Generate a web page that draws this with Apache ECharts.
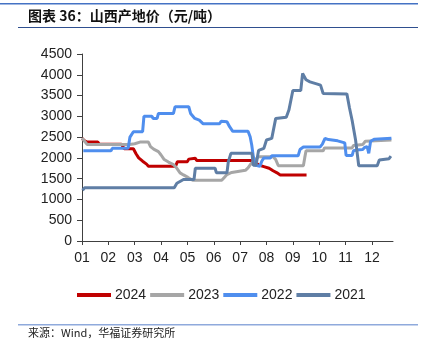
<!DOCTYPE html>
<html>
<head>
<meta charset="utf-8">
<script src="https://cdn.jsdelivr.net/npm/echarts@6/dist/echarts.min.js"></script>
<style>
  html, body { margin: 0; padding: 0; background: #fff; }
  #chart { width: 421px; height: 354px; }
</style>
</head>
<body>
<div id="chart"></div>
<script>
// month labels for the x axis (0 = start of Jan)
var monthLabels = ['01', '02', '03', '04', '05', '06', '07', '08', '09', '10', '11', '12'];
var seriesNames = ['2024', '2023', '2022', '2021'];

// [month position, price]
var price2024 = [[0.0,2470],[0.1,2410],[0.2,2380],[0.6,2380],[0.65,2330],[1.5,2330],[1.6,2220],[1.95,2220],
  [2.05,2100],[2.15,2000],[2.3,1920],[2.45,1850],[2.52,1800],[3.55,1800],[3.62,1910],[4.0,1910],[4.05,1970],
  [4.1,1990],[4.3,1990],[4.35,1940],[6.45,1940],[6.55,1910],[6.7,1830],[6.9,1790],[7.1,1750],[7.25,1690],
  [7.4,1640],[7.52,1590],[8.52,1590]];
var price2023 = [[0.0,2470],[0.1,2400],[0.2,2320],[1.8,2320],[2.0,2340],[2.2,2380],[2.52,2380],[2.6,2270],
  [2.72,2210],[2.9,2150],[3.0,2070],[3.12,1960],[3.28,1900],[3.47,1840],[3.6,1750],[3.72,1640],[3.85,1590],
  [4.02,1530],[4.2,1460],[5.3,1460],[5.4,1530],[5.5,1600],[5.68,1650],[5.75,1690],[6.2,1700],[6.3,1760],
  [6.4,1850],[6.55,1940],[6.7,2030],[7.25,2030],[7.35,1960],[7.45,1810],[8.4,1810],[8.45,2000],[8.5,2170],
  [9.15,2170],[9.2,2240],[10.25,2240],[10.3,2300],[10.65,2320],[10.75,2400],[10.82,2430],[11.74,2430]];
var price2022 = [[0.05,2170],[1.1,2170],[1.15,2230],[1.75,2230],[1.82,2500],[1.95,2630],[2.3,2630],[2.35,3000],
  [2.65,3000],[2.7,2950],[2.85,2950],[2.9,3070],[3.47,3070],[3.53,3230],[4.05,3230],[4.12,3070],[4.28,2950],
  [4.45,2910],[4.6,2820],[5.22,2820],[5.28,2880],[5.5,2870],[5.6,2750],[5.72,2640],[6.3,2640],[6.38,2510],
  [6.44,2310],[6.5,2030],[6.56,1830],[6.75,1800],[6.82,1920],[6.9,2000],[7.15,2000],[7.2,2050],[8.2,2050],
  [8.27,2200],[8.4,2260],[9.03,2260],[9.12,2330],[9.22,2470],[9.35,2440],[9.7,2410],[9.75,2370],[9.97,2360],
  [10.02,2060],[10.25,2060],[10.3,2170],[10.42,2190],[10.65,2200],[10.72,2250],[10.82,2270],[10.88,2110],
  [10.95,2400],[11.1,2450],[11.17,2470],[11.74,2470]];
var price2021 = [[0.02,1220],[0.1,1280],[3.5,1280],[3.6,1390],[3.85,1480],[4.25,1480],[4.3,1750],[5.05,1750],
  [5.1,1640],[5.5,1640],[5.55,1900],[5.65,2110],[6.45,2110],[6.5,1820],[6.6,1820],[6.7,2180],[6.9,2230],
  [7.0,2430],[7.2,2470],[7.35,2950],[7.75,2980],[7.85,3150],[8.0,3620],[8.3,3620],[8.37,4030],[8.5,3880],
  [8.65,3830],[8.9,3780],[9.05,3750],[9.15,3550],[10.05,3540],[10.15,3200],[10.25,2900],[10.38,2430],
  [10.5,1810],[11.2,1810],[11.28,1950],[11.65,1980],[11.72,2040]];

var colors = ['#C00000', '#A6A6A6', '#4F8EEE', '#5F7EA5'];
var allData = [price2024, price2023, price2022, price2021];
var tickPos = monthLabels.map(function (m, i) { return i; });

var chart = echarts.init(document.getElementById('chart'));

var series = seriesNames.map(function (name, i) {
  return {
    name: name,
    type: 'line',
    data: allData[i],
    symbol: 'none',
    lineStyle: { width: 3, color: colors[i] },
    itemStyle: { color: colors[i] }
  };
});

chart.setOption({
  animation: false,
  textStyle: { fontFamily: 'Liberation Sans, Arial, sans-serif' },
  grid: { left: 82, right: 28, top: 54, bottom: 113 },
  legend: {
    data: seriesNames,
    left: 72,
    top: 283,
    icon: 'rect',
    itemWidth: 34,
    itemHeight: 4,
    itemGap: 4,
    textStyle: { fontSize: 14, color: '#222', padding: [0, 0, 0, -1] }
  },
  xAxis: {
    type: 'value',
    min: 0,
    max: 11.8,
    interval: 1,
    axisLine: { lineStyle: { color: '#404040', width: 1 } },
    axisTick: { show: true, length: 4, customValues: tickPos, lineStyle: { color: '#404040' } },
    axisLabel: {
      customValues: tickPos,
      fontSize: 14,
      color: '#222',
      margin: 10,
      formatter: function (v) { return monthLabels[Math.round(v)] || ''; }
    },
    splitLine: { show: false }
  },
  yAxis: {
    type: 'value',
    min: 0,
    max: 4500,
    interval: 500,
    axisLine: { show: true, lineStyle: { color: '#404040', width: 1 } },
    axisTick: { show: true, length: 5, lineStyle: { color: '#404040' } },
    axisLabel: { fontSize: 14, color: '#222', margin: 10, formatter: function (v) { return String(v); } },
    splitLine: { show: false }
  },
  graphic: [
    { type: 'rect', shape: { x: 0, y: 3, width: 418, height: 1.5 }, style: { fill: '#4472C4' } },
    { type: 'text', left: 28, top: 9,
      style: { text: '图表 36：山西产地价（元/吨）', fontSize: 14, fontWeight: 'bold',
               fontFamily: 'Noto Sans CJK SC', fill: '#111' } },
    { type: 'rect', shape: { x: 18, y: 27, width: 400, height: 1 }, style: { fill: '#2F4F8F' } },
    { type: 'rect', shape: { x: 18, y: 324, width: 400, height: 1.5 }, style: { fill: '#8FAADC' } },
    { type: 'text', left: 28, top: 327,
      style: { text: '来源：Wind，华福证券研究所', fontSize: 11,
               fontFamily: 'Noto Sans CJK SC', fill: '#222' } }
  ],
  series: series
});
</script>
</body>
</html>
